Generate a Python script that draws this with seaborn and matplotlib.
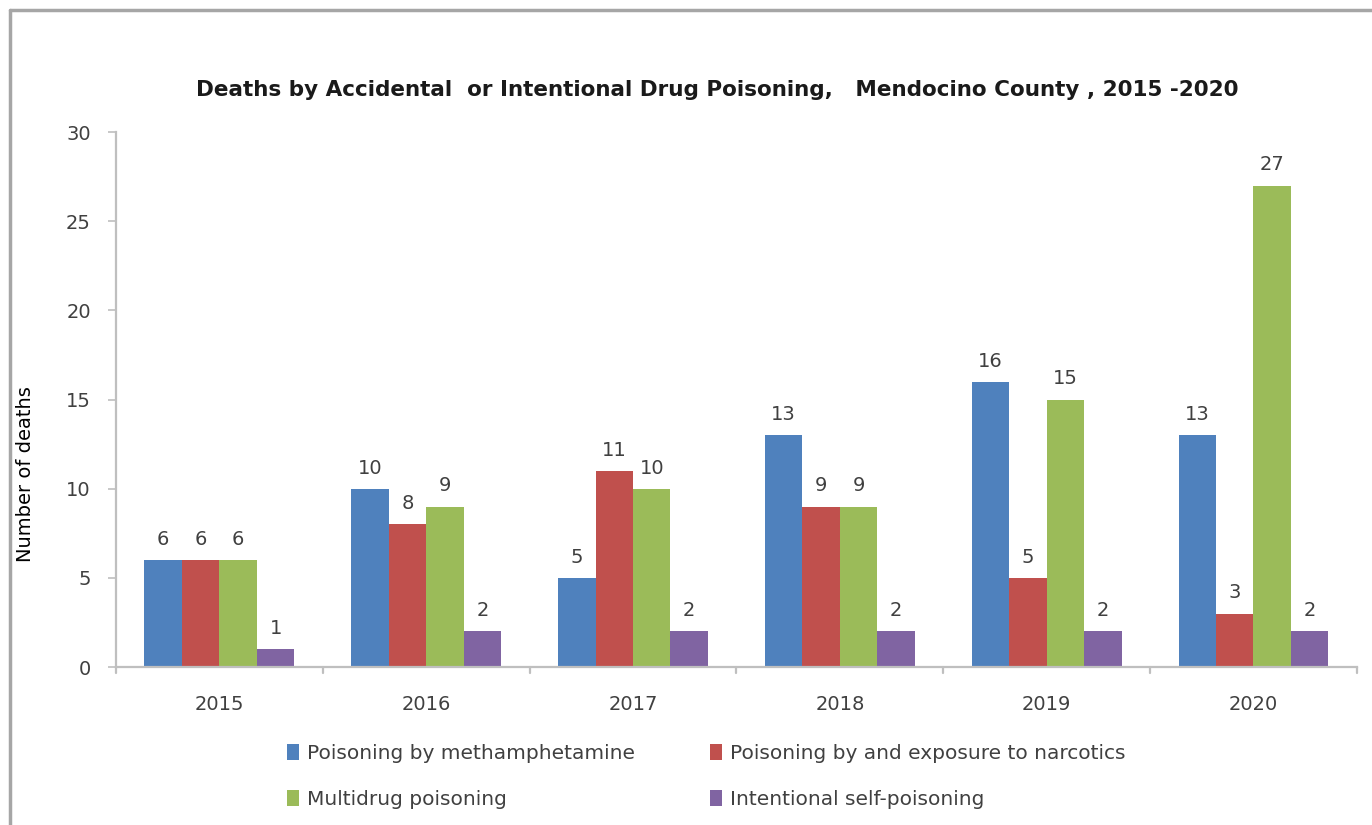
import matplotlib
matplotlib.use("Agg")
import matplotlib.pyplot as plt
from matplotlib.lines import Line2D
from matplotlib.patches import Patch
import seaborn as sns
import pandas as pd

years = ["2015", "2016", "2017", "2018", "2019", "2020"]
series = [
    "Poisoning by methamphetamine",
    "Poisoning by and exposure to narcotics",
    "Multidrug poisoning",
    "Intentional self-poisoning",
]
methamphetamine = [6, 10, 5, 13, 16, 13]
narcotics = [6, 8, 11, 9, 5, 3]
multidrug = [6, 9, 10, 9, 15, 27]
self_poisoning = [1, 2, 2, 2, 2, 2]
colors = ["#4F81BD", "#C0504D", "#9BBB59", "#8064A2"]

values = [methamphetamine, narcotics, multidrug, self_poisoning]
df = pd.DataFrame(
    [(y, s, v[i]) for s, v in zip(series, values) for i, y in enumerate(years)],
    columns=["year", "cause", "deaths"],
)

sns.set_theme(style="white")
plt.rcParams["font.family"] = ["DejaVu Sans"]

fig = plt.figure(figsize=(13.72, 8.25), dpi=100)
ax = fig.add_axes([0.0845, 0.1915, 0.9045, 0.6485])

sns.barplot(
    data=df, x="year", y="deaths", hue="cause", hue_order=series,
    order=years, palette=colors, width=0.725, saturation=1,
    ax=ax, legend=False, linewidth=0,
)

text_col = "#404040"
for cont in ax.containers:
    ax.bar_label(cont, fmt="%d", padding=8, fontsize=14, color=text_col)

ax.set_ylim(0, 30)
ax.set_xlim(-0.5, 5.5)
ax.set_yticks(range(0, 31, 5))
ax.set_xlabel("")
ax.set_ylabel("Number of deaths", fontsize=14, color="black")
ax.yaxis.set_label_coords(-0.065, 0.36)
ax.tick_params(axis="y", labelsize=14, labelcolor=text_col, left=True,
               length=6, width=1.2, color="#BFBFBF", pad=12)
ax.tick_params(axis="x", labelsize=14, labelcolor=text_col, bottom=False, pad=14)

# tick marks between the year groups
for b in [i - 0.5 for i in range(7)]:
    ax.plot([b, b], [0, -0.35], color="#BFBFBF", lw=1.6, clip_on=False,
            transform=ax.transData)

for side in ["top", "right"]:
    ax.spines[side].set_visible(False)
for side in ["left", "bottom"]:
    ax.spines[side].set_color("#BFBFBF")
    ax.spines[side].set_linewidth(1.6)

fig.text(0.523, 0.891, "Deaths by Accidental  or Intentional Drug Poisoning,   Mendocino County , 2015 -2020",
         ha="center", va="center", fontsize=15.5, fontweight="bold", color="#1a1a1a")

handles = [Patch(facecolor=c, edgecolor="none") for c in colors]
order = [0, 2, 1, 3]
fig.legend(
    [handles[i] for i in order], [series[i] for i in order],
    ncol=2, loc="upper left", bbox_to_anchor=(0.196, 0.12),
    frameon=False, fontsize=14.5, handlelength=0.6, handleheight=0.8,
    handletextpad=0.4, columnspacing=3.7, labelspacing=1.34,
    labelcolor=text_col,
)

# outer frame of the chart area
fig.add_artist(Line2D([0.0073, 0.0073], [0, 0.988], color="#A6A6A6", lw=2.5,
                      transform=fig.transFigure))
fig.add_artist(Line2D([0.0073, 1.0], [0.988, 0.988], color="#A6A6A6", lw=2.5,
                      transform=fig.transFigure))

fig.savefig("out.png", dpi=100, facecolor="white")
